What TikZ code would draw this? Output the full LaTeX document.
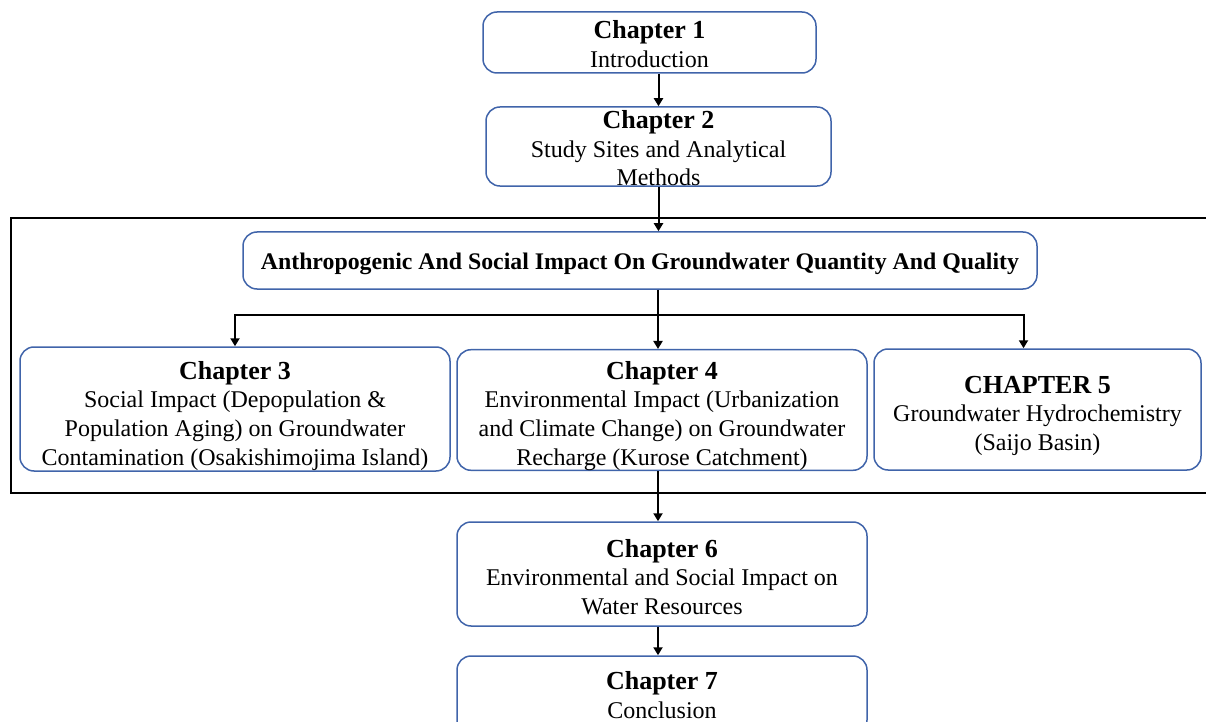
\documentclass[tikz,border=0pt]{standalone}
\usepackage{fontspec}
\setmainfont{Liberation Serif}
\usetikzlibrary{arrows.meta}
\definecolor{boxblue}{RGB}{64,100,170}
\newcommand{\chtitle}[1]{{\fontsize{13pt}{14.3pt}\selectfont\bfseries #1}}
\newcommand{\txtdrop}[1]{\rule{0pt}{#1}}

\begin{document}
\begin{tikzpicture}[x=0.5pt,y=-0.5pt,
        chbox/.style={draw=boxblue,line width=0.75pt,rounded corners=7pt,fill=white,
            align=center,inner sep=0pt,font=\fontsize{12pt}{14.3pt}\selectfont},
        link/.style={-{Triangle[length=4pt,width=4.5pt]},line width=1pt}]
        \useasboundingbox (0,0) rectangle (1206,722);
        \clip (0,0) rectangle (1206,722);

        \draw[line width=1pt] (1216,218) -- (11,218) -- (11,493) -- (1216,493);

        \node[chbox,minimum width=166.5pt,minimum height=30.5pt] (ch1) at (649.5,42.5)
            {\txtdrop{10.8pt}\chtitle{Chapter 1}\\Introduction};
        \node[chbox,minimum width=172.5pt,minimum height=39.5pt] (ch2) at (658.5,146.5)
            {\txtdrop{10.8pt}\chtitle{Chapter 2}\\Study Sites and Analytical\\Methods};

        \node[chbox,minimum width=397pt,minimum height=28.5pt,
            font=\fontsize{11.9pt}{14.3pt}\selectfont\bfseries] (anthro) at (640,260.5)
            {\txtdrop{12.1pt}Anthropogenic And Social Impact On Groundwater Quantity And Quality};
        \coordinate (split) at (658,315);

        \node[chbox,minimum width=215pt,minimum height=62pt] (ch3) at (235,409)
            {\txtdrop{15.8pt}\chtitle{Chapter 3}\\Social Impact (Depopulation \&\\Population Aging) on Groundwater\\Contamination (Osakishimojima Island)};
        \node[chbox,minimum width=205pt,minimum height=60pt] (ch4) at (662,410)
            {\txtdrop{14.8pt}\chtitle{Chapter 4}\\Environmental Impact (Urbanization\\and Climate Change) on Groundwater\\Recharge (Kurose Catchment)};
        \node[chbox,minimum width=163.5pt,minimum height=60.5pt] (ch5) at (1037.5,409.5)
            {\txtdrop{14.8pt}\chtitle{CHAPTER 5}\\Groundwater Hydrochemistry\\(Saijo Basin)};

        \node[chbox,minimum width=205pt,minimum height=52pt] (ch6) at (662,574)
            {\txtdrop{11.8pt}\chtitle{Chapter 6}\\Environmental and Social Impact on\\Water Resources};
        \node[chbox,minimum width=205pt,minimum height=39pt] (ch7) at (662,695)
            {\chtitle{Chapter 7}\\Conclusion};

        \draw[link] (ch1.south -| ch2.north) -- (ch2.north);
        \draw[link] (ch2.south) -- (ch2.south |- anthro.north);
        \draw[line width=1pt] (anthro.south -| split) -- (split);
        \draw[link] (split) -| (ch3.north);
        \draw[link] (split) -- (split |- ch4.north);
        \draw[link] (split) -| ([xshift=-7pt]ch5.north);
        \draw[link] (ch4.south -| split) -- (split |- ch6.north);
        \draw[link] (ch6.south -| split) -- (split |- ch7.north);
    \end{tikzpicture}
\end{document}
